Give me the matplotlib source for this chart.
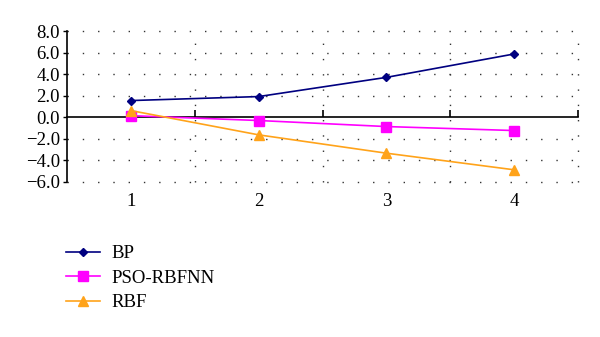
import matplotlib
matplotlib.use("Agg")
import matplotlib.pyplot as plt
from matplotlib.ticker import NullFormatter

plt.rcParams['font.family'] = ['Liberation Serif', 'DejaVu Serif']

categories = ["1", "2", "3", "4"]
bp = [1.55, 1.92, 3.70, 5.87]
pso_rbfnn = [0.15, -0.30, -0.86, -1.23]
rbf = [0.62, -1.63, -3.33, -4.87]
y_ticks = [-6.0, -4.0, -2.0, 0.0, 2.0, 4.0, 6.0, 8.0]

y_min, y_max = -6.0, 8.0
x = list(range(1, len(categories) + 1))
boundaries = [i + 0.5 for i in x]

fig = plt.figure(figsize=(6.0, 3.37), dpi=100)
ax = fig.add_axes([0.1117, 0.46, 0.8516, 0.448])

ax.plot(x, bp, color='#000080', marker='D', markersize=4.5, lw=1.2, label='BP', zorder=4)
ax.plot(x, pso_rbfnn, color='#FF00FF', marker='s', markersize=6.5, lw=1.2, label='PSO-RBFNN', zorder=4)
ax.plot(x, rbf, color='#FFA31A', marker='^', markersize=7.5, lw=1.2, label='RBF', zorder=4)

ax.set_xlim(0.5, len(categories) + 0.5)
ax.set_ylim(y_min, y_max)

# dotted grid: horizontal at value ticks, vertical at category boundaries
dot = (0, (1, 10))
grid_kw = dict(color='#333333', linestyle=dot, linewidth=1.0, clip_on=False, zorder=1)
for v in y_ticks:
    if v != 0.0:
        ax.axhline(v, **grid_kw)
for b in boundaries:
    ax.axvline(b, **grid_kw)

ax.set_yticks(y_ticks)
ax.set_yticklabels([f"{v:.1f}".replace('-', '\u2212') for v in y_ticks], fontsize=13.5)
ax.set_xticks(x)
ax.set_xticklabels(categories, fontsize=13.5)
ax.tick_params(axis='x', which='major', length=0, pad=8)
ax.tick_params(axis='y', direction='out', length=3, width=1, pad=2)

for side in ('top', 'right', 'bottom'):
    ax.spines[side].set_visible(False)
ax.spines['left'].set_linewidth(1.2)
ax.spines['left'].set_zorder(3)

# category axis drawn through zero, ticks pointing up at boundaries
zero_pos = (0.0 - y_min) / (y_max - y_min)
sec = ax.secondary_xaxis(zero_pos)
sec.spines['bottom'].set_linewidth(1.2)
sec.set_xticks(boundaries)
sec.xaxis.set_major_formatter(NullFormatter())
sec.tick_params(axis='x', direction='in', length=5, width=1.2)

fig.legend(loc='upper left', bbox_to_anchor=(66 / 600, 1 - 245 / 337),
           frameon=False, fontsize=13.5, borderpad=0, borderaxespad=0,
           handlelength=1.8, handletextpad=0.65, labelspacing=0.4)

fig.savefig('out.png', dpi=100)
